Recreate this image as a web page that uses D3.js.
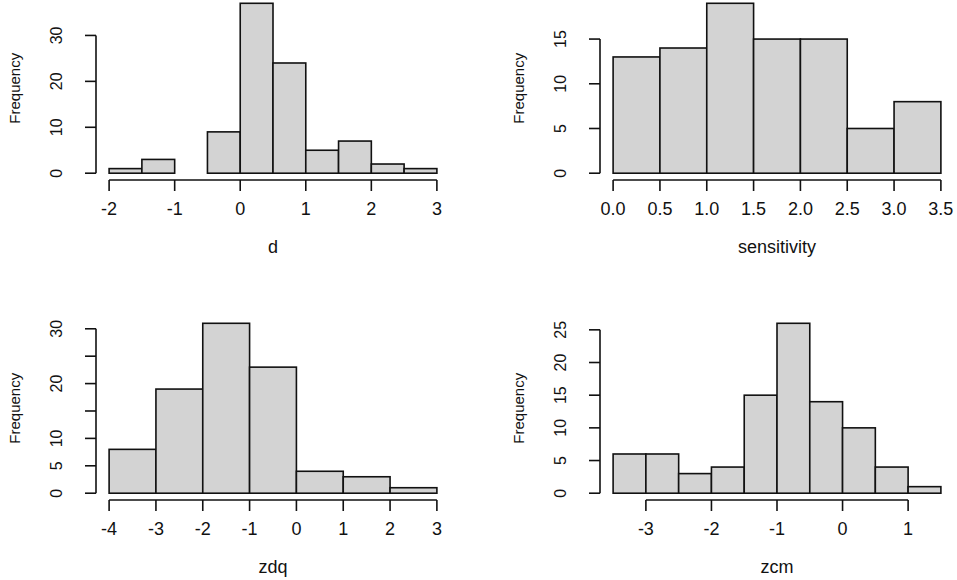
<!DOCTYPE html>
<html>
<head>
<meta charset="utf-8">
<script src="https://cdn.jsdelivr.net/npm/d3@7"></script>
<style>
  body { margin: 0; background: #fff; }
  text { font-family: "Liberation Sans", Arial, sans-serif; fill: #111; }
</style>
</head>
<body>
<script>
// histogram data
var dBreaks = [-2, -1.5, -1, -0.5, 0, 0.5, 1, 1.5, 2, 2.5, 3];
var dCounts = [1, 3, 0, 9, 37, 24, 5, 7, 2, 1];
var dXTicks = [-2, -1, 0, 1, 2, 3];
var dYTicks = [0, 10, 20, 30];

var sensBreaks = [0, 0.5, 1, 1.5, 2, 2.5, 3, 3.5];
var sensCounts = [13, 14, 19, 15, 15, 5, 8];
var sensXTicks = [0, 0.5, 1, 1.5, 2, 2.5, 3, 3.5];
var sensYTicks = [0, 5, 10, 15];

var zdqBreaks = [-4, -3, -2, -1, 0, 1, 2, 3];
var zdqCounts = [8, 19, 31, 23, 4, 3, 1];
var zdqXTicks = [-4, -3, -2, -1, 0, 1, 2, 3];
var zdqYTicks = [0, 5, 10, 15, 20, 25, 30];
var zdqYLabels = [0, 5, 10, 20, 30]; // R drops the labels that would overlap

var zcmBreaks = [-3.5, -3, -2.5, -2, -1.5, -1, -0.5, 0, 0.5, 1, 1.5];
var zcmCounts = [6, 6, 3, 4, 15, 26, 14, 10, 4, 1];
var zcmXTicks = [-3, -2, -1, 0, 1];
var zcmYTicks = [0, 5, 10, 15, 20, 25];

var w = 957, h = 580;
var svg = d3.select("body").append("svg").attr("width", w).attr("height", h);

// plot regions (mfrow 2x2)
var cols = [[96, 450], [600, 954]];
var rows = [[-3.5, 180], [316.5, 500]];

var panels = [
  {name: "d", breaks: dBreaks, counts: dCounts, xt: dXTicks, yt: dYTicks, yl: dYTicks, fmt: d3.format("d"), c: 0, r: 0},
  {name: "sensitivity", breaks: sensBreaks, counts: sensCounts, xt: sensXTicks, yt: sensYTicks, yl: sensYTicks, fmt: d3.format(".1f"), c: 1, r: 0},
  {name: "zdq", breaks: zdqBreaks, counts: zdqCounts, xt: zdqXTicks, yt: zdqYTicks, yl: zdqYLabels, fmt: d3.format("d"), c: 0, r: 1},
  {name: "zcm", breaks: zcmBreaks, counts: zcmCounts, xt: zcmXTicks, yt: zcmYTicks, yl: zcmYTicks, fmt: d3.format("d"), c: 1, r: 1}
];

var lw = 1.6;
var tick = 11;
var yfmt = d3.format("d");

function hyphen(s) { return s.replace("\u2212", "-"); }

panels.forEach(function(p) {
  var x0 = cols[p.c][0], x1 = cols[p.c][1];
  var y0 = rows[p.r][0], y1 = rows[p.r][1];
  var lo = p.breaks[0], hi = p.breaks[p.breaks.length - 1];
  var pad = (hi - lo) * 0.04;
  var ymax = d3.max(p.counts);
  var x = d3.scaleLinear().domain([lo - pad, hi + pad]).range([x0, x1]);
  var y = d3.scaleLinear().domain([-ymax * 0.04, ymax * 1.04]).range([y1, y0]);

  var g = svg.append("g");

  // bars
  g.selectAll("rect")
    .data(p.counts)
    .enter()
    .append("rect")
    .attr("x", function(d, i) { return x(p.breaks[i]); })
    .attr("y", function(d) { return y(d); })
    .attr("width", function(d, i) { return x(p.breaks[i + 1]) - x(p.breaks[i]); })
    .attr("height", function(d) { return y(0) - y(d); })
    .attr("fill", "#d3d3d3")
    .attr("stroke", "#111")
    .attr("stroke-width", lw);

  // x axis: line only between first and last tick
  var xa = g.append("g").attr("transform", "translate(0," + y1 + ")");
  xa.append("line")
    .attr("x1", x(p.xt[0])).attr("x2", x(p.xt[p.xt.length - 1]))
    .attr("stroke", "#111").attr("stroke-width", lw);
  xa.selectAll("line.tk").data(p.xt).enter().append("line")
    .attr("class", "tk")
    .attr("x1", function(d) { return x(d); }).attr("x2", function(d) { return x(d); })
    .attr("y1", 0).attr("y2", tick)
    .attr("stroke", "#111").attr("stroke-width", lw);
  xa.selectAll("text").data(p.xt).enter().append("text")
    .attr("x", function(d) { return x(d); })
    .attr("y", 35)
    .attr("text-anchor", "middle")
    .attr("font-size", "18px")
    .text(function(d) { return hyphen(p.fmt(d)); });

  // y axis
  var ya = g.append("g").attr("transform", "translate(" + x0 + ",0)");
  ya.append("line")
    .attr("y1", y(p.yt[0])).attr("y2", y(p.yt[p.yt.length - 1]))
    .attr("stroke", "#111").attr("stroke-width", lw);
  ya.selectAll("line.tk").data(p.yt).enter().append("line")
    .attr("class", "tk")
    .attr("y1", function(d) { return y(d); }).attr("y2", function(d) { return y(d); })
    .attr("x1", 0).attr("x2", -tick)
    .attr("stroke", "#111").attr("stroke-width", lw);
  ya.selectAll("text").data(p.yl).enter().append("text")
    .attr("transform", function(d) { return "translate(-34," + y(d) + ") rotate(-90)"; })
    .attr("text-anchor", "middle")
    .attr("font-size", "16px")
    .text(function(d) { return yfmt(d); });

  // titles
  g.append("text")
    .attr("x", (x0 + x1) / 2)
    .attr("y", y1 + 73)
    .attr("text-anchor", "middle")
    .attr("font-size", "18px")
    .text(p.name);
  g.append("text")
    .attr("transform", "translate(" + (x0 - 76) + "," + ((y0 + y1) / 2) + ") rotate(-90)")
    .attr("text-anchor", "middle")
    .attr("font-size", "15px")
    .text("Frequency");
});
</script>
</body>
</html>
